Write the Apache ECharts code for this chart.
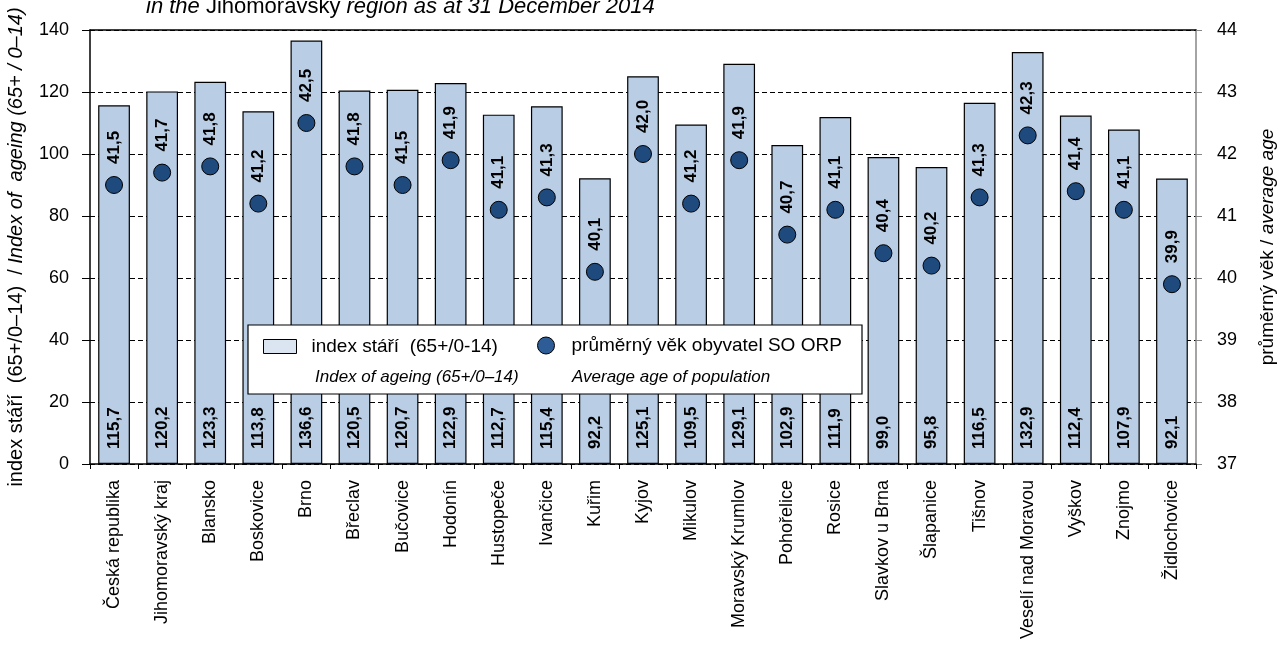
<!DOCTYPE html>
<html>
<head>
<meta charset="utf-8">
<title>Index stáří a průměrný věk – Jihomoravský kraj 2014</title>
<script src="https://cdn.jsdelivr.net/npm/echarts@6/dist/echarts.min.js"></script>
<style>
  html, body { margin: 0; padding: 0; background: #fff; }
  #chart { width: 1280px; height: 660px; }
</style>
</head>
<body>
<div id="chart"></div>
<script>
// Administrative districts (SO ORP) of the Jihomoravský region, 31 Dec 2014
const categories = [
  'Česká republika', 'Jihomoravský kraj', 'Blansko', 'Boskovice', 'Brno', 'Břeclav',
  'Bučovice', 'Hodonín', 'Hustopeče', 'Ivančice', 'Kuřim', 'Kyjov', 'Mikulov',
  'Moravský Krumlov', 'Pohořelice', 'Rosice', 'Slavkov u Brna', 'Šlapanice', 'Tišnov',
  'Veselí nad Moravou', 'Vyškov', 'Znojmo', 'Židlochovice'
];

// index stáří (65+/0-14)
const ageingIndex = [
  115.7, 120.2, 123.3, 113.8, 136.6, 120.5, 120.7, 122.9, 112.7, 115.4, 92.2, 125.1,
  109.5, 129.1, 102.9, 111.9, 99.0, 95.8, 116.5, 132.9, 112.4, 107.9, 92.1
];

// průměrný věk obyvatel SO ORP
const averageAge = [
  41.5, 41.7, 41.8, 41.2, 42.5, 41.8, 41.5, 41.9, 41.1, 41.3, 40.1, 42.0,
  41.2, 41.9, 40.7, 41.1, 40.4, 40.2, 41.3, 42.3, 41.4, 41.1, 39.9
];

// Axis ranges
const leftAxisTicks = { min: 0, max: 140, interval: 20 };
const rightAxisTicks = { min: 37, max: 44, interval: 1 };

const FONT = '"Liberation Sans", Arial, sans-serif';
const fmt = v => Number(v).toFixed(1).replace('.', ',');

const chart = echarts.init(document.getElementById('chart'));

chart.setOption({
  animation: false,
  backgroundColor: '#fff',
  textStyle: { fontFamily: FONT, color: '#000' },
  grid: { left: 90, right: 84, top: 30, bottom: 196, containLabel: false, outerBoundsMode: 'none' },
  xAxis: [
    {
      type: 'category',
      data: categories,
      axisLine: { lineStyle: { color: '#000', width: 1.5 } },
      axisTick: { show: true, alignWithLabel: false, length: 5, lineStyle: { color: '#000' } },
      axisLabel: {
        rotate: 90, interval: 0, margin: 16,
        fontSize: 18, color: '#000', fontFamily: FONT
      }
    },
    {
      // solid frame line across the top of the plot
      type: 'category',
      data: categories,
      position: 'top',
      axisLine: { show: true, lineStyle: { color: '#000', width: 1.5 } },
      axisTick: { show: false },
      axisLabel: { show: false }
    }
  ],
  yAxis: [
    {
      type: 'value',
      min: leftAxisTicks.min, max: leftAxisTicks.max, interval: leftAxisTicks.interval,
      axisLine: { show: true, lineStyle: { color: '#000', width: 1.5 } },
      axisTick: { show: true, length: 8, lineStyle: { color: '#000' } },
      axisLabel: { fontSize: 18, color: '#000', margin: 21, fontFamily: FONT },
      splitLine: { show: true, lineStyle: { color: '#000', type: [5, 3], width: 1 } },
      name: '{a|index stáří  (65+/0–14)  / }{b|Index of  ageing (65+ / 0–14)}',
      nameLocation: 'middle',
      nameGap: 64,
      nameRotate: 90,
      nameTextStyle: {
        rich: {
          a: { fontSize: 20, fontFamily: FONT, color: '#000' },
          b: { fontSize: 20, fontFamily: FONT, color: '#000', fontStyle: 'italic' }
        }
      }
    },
    {
      type: 'value',
      position: 'right',
      min: rightAxisTicks.min, max: rightAxisTicks.max, interval: rightAxisTicks.interval,
      axisLine: { show: true, lineStyle: { color: '#868686', width: 1.5 } },
      axisTick: { show: true, length: 6, lineStyle: { color: '#868686' } },
      axisLabel: { fontSize: 18, color: '#000', margin: 21, fontFamily: FONT },
      splitLine: { show: false },
      name: '{a|průměrný věk / }{b|average age}',
      nameLocation: 'middle',
      nameGap: 62,
      nameRotate: 90,
      nameTextStyle: {
        rich: {
          a: { fontSize: 19, fontFamily: FONT, color: '#000' },
          b: { fontSize: 19, fontFamily: FONT, color: '#000', fontStyle: 'italic' }
        }
      }
    }
  ],
  legend: [
    {
      left: 258, top: 332, z: 60,
      itemWidth: 33, itemHeight: 14,
      textStyle: { fontSize: 19, color: '#000', fontFamily: FONT, padding: [0, 0, 0, 10] },
      data: [{
        name: 'index stáří  (65+/0-14)',
        icon: 'rect',
        itemStyle: { color: '#dbe5f1', borderColor: '#000', borderWidth: 1 }
      }]
    },
    {
      left: 532, top: 331, z: 60,
      itemWidth: 17, itemHeight: 17,
      textStyle: { fontSize: 19, color: '#000', fontFamily: FONT, padding: [0, 0, 0, 12] },
      data: [{
        name: 'průměrný věk obyvatel SO ORP',
        icon: 'circle',
        itemStyle: { color: '#2d5c96', borderColor: '#000', borderWidth: 1 }
      }]
    }
  ],
  graphic: [
    {
      type: 'text', left: 146, top: -4, z: 60,
      style: {
        text: '{i|in the }{n|Jihomoravský }{i|region as at 31 December 2014}',
        rich: {
          i: { fontSize: 22, fontStyle: 'italic', fontFamily: FONT, fill: '#000' },
          n: { fontSize: 22, fontFamily: FONT, fill: '#000' }
        }
      }
    },
    {
      type: 'rect', z: 50,
      shape: { x: 248, y: 325, width: 614, height: 69 },
      style: { fill: '#fff', stroke: '#000', lineWidth: 1.2 }
    },
    {
      type: 'text', left: 315, top: 369, z: 60,
      style: { text: 'Index of ageing (65+/0–14)', font: 'italic 17px ' + FONT, fill: '#000' }
    },
    {
      type: 'text', left: 572, top: 369, z: 60,
      style: { text: 'Average age of population', font: 'italic 17px ' + FONT, fill: '#000' }
    }
  ],
  series: [
    {
      name: 'index stáří  (65+/0-14)',
      type: 'bar',
      data: ageingIndex,
      barWidth: '66%',
      itemStyle: { color: '#b9cde5', borderColor: '#000', borderWidth: 1.2 },
      label: {
        show: true, position: 'insideBottom', rotate: 90,
        align: 'left', verticalAlign: 'middle', distance: 15,
        formatter: p => fmt(p.value),
        fontSize: 17, fontWeight: 'bold', color: '#000', fontFamily: FONT
      }
    },
    {
      name: 'průměrný věk obyvatel SO ORP',
      type: 'scatter',
      yAxisIndex: 1,
      data: averageAge,
      symbol: 'circle',
      symbolSize: 17,
      z: 5,
      itemStyle: { color: '#1f4a7e', borderColor: '#000', borderWidth: 1, opacity: 1 },
      label: {
        show: true, position: 'top', rotate: 90,
        align: 'left', verticalAlign: 'middle', distance: 12,
        formatter: p => fmt(p.value),
        fontSize: 17, fontWeight: 'bold', color: '#000', fontFamily: FONT
      }
    }
  ]
});
</script>
</body>
</html>
